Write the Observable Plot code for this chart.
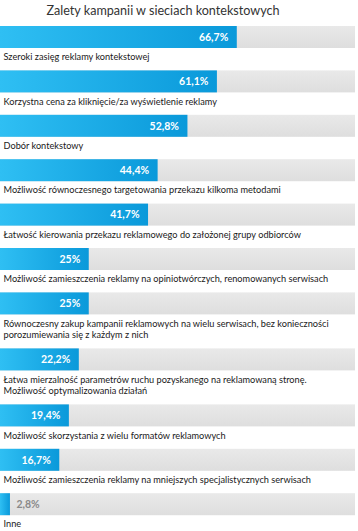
<!DOCTYPE html>
<html>
<head>
<meta charset="utf-8">
<script src="https://cdn.jsdelivr.net/npm/d3@7"></script>
<script src="https://cdn.jsdelivr.net/npm/@observablehq/plot@0.6"></script>
<style>
  html, body { margin: 0; padding: 0; background: #fff; }
  #title { width: 326px; height: 20px; text-align: center; font: 12.6px Lato, sans-serif; color: #333; line-height: 22px; }
  #chart svg { display: block; }
</style>
</head>
<body>
<div id="title">Zalety kampanii w sieciach kontekstowych</div>
<div id="chart"></div>
<script>
const categories = [
  "Szeroki zasięg reklamy kontekstowej",
  "Korzystna cena za kliknięcie/za wyświetlenie reklamy",
  "Dobór kontekstowy",
  "Możliwość równoczesnego targetowania przekazu kilkoma metodami",
  "Łatwość kierowania przekazu reklamowego do założonej grupy odbiorców",
  "Możliwość zamieszczenia reklamy na opiniotwórczych, renomowanych serwisach",
  "Równoczesny zakup kampanii reklamowych na wielu serwisach, bez konieczności\nporozumiewania się z każdym z nich",
  "Łatwa mierzalność parametrów ruchu pozyskanego na reklamowaną stronę.\nMożliwość optymalizowania działań",
  "Możliwość skorzystania z wielu formatów reklamowych",
  "Możliwość zamieszczenia reklamy na mniejszych specjalistycznych serwisach",
  "Inne"
];
const values = [66.7, 61.1, 52.8, 44.4, 41.7, 25, 25, 22.2, 19.4, 16.7, 2.8];

// layout units (derived from label line counts)
const ROW = 44.4, LINE = 11.6, BAR = 22;
let acc = 0;
const data = categories.map((c, i) => {
  const lines = c.split("\n").length;
  const top = acc;
  acc += ROW + LINE * (lines - 1);
  return {label: c, value: values[i], top, bottom: top + BAR, mid: top + BAR / 2,
          text: String(values[i]).replace(".", ",") + "%"};
});
const lastBottom = data[data.length - 1].top + 33;

const W = 358, H = 511, MT = 6;
const inside = data.filter(d => d.value >= 10);
const outside = data.filter(d => d.value < 10);

const plot = Plot.plot({
  width: W,
  height: H,
  marginLeft: 0,
  marginRight: 3,
  marginTop: MT,
  marginBottom: H - MT - lastBottom,
  style: {fontFamily: "Lato, sans-serif", background: "#fff"},
  x: {domain: [0, 100], axis: null},
  y: {domain: [0, lastBottom], range: [MT, MT + lastBottom], axis: null},
  marks: [
    Plot.rect(data, {x1: 0, x2: 100, y1: "top", y2: "bottom", fill: "url(#trackGrad)"}),
    Plot.rect(data, {x1: 0, x2: "value", y1: "top", y2: "bottom", fill: "url(#barGrad)"}),
    Plot.text(inside, {x: "value", y: "mid", text: "text", dx: -9, textAnchor: "end",
      fill: "#fff", fontWeight: "bold", fontSize: 10.5}),
    Plot.text(outside, {x: "value", y: "mid", text: "text", dx: 6, textAnchor: "start",
      fill: "#8a8a8a", fontWeight: "bold", fontSize: 10.5}),
    Plot.text(data, {x: 0, y: d => d.bottom + 3.5, text: "label", dx: 3, textAnchor: "start",
      lineAnchor: "top", lineHeight: 1.27, fill: "#1a1a1a", fontSize: 9.2})
  ]
});

const svg = plot.tagName.toLowerCase() === "svg" ? plot : plot.querySelector("svg");
const ns = "http://www.w3.org/2000/svg";
const defs = document.createElementNS(ns, "defs");
function grad(id, stops, vertical) {
  const g = document.createElementNS(ns, "linearGradient");
  g.setAttribute("id", id);
  g.setAttribute("x1", "0"); g.setAttribute("y1", "0");
  g.setAttribute("x2", vertical ? "0" : "1"); g.setAttribute("y2", vertical ? "1" : "0");
  stops.forEach(([o, c]) => {
    const s = document.createElementNS(ns, "stop");
    s.setAttribute("offset", o); s.setAttribute("stop-color", c);
    g.appendChild(s);
  });
  defs.appendChild(g);
}
grad("barGrad", [["0", "#2fbff3"], ["1", "#0a99da"]], false);
grad("trackGrad", [["0", "#e9e9e9"], ["1", "#dedede"]], true);
svg.insertBefore(defs, svg.firstChild);
document.getElementById("chart").appendChild(plot);
</script>
</body>
</html>
